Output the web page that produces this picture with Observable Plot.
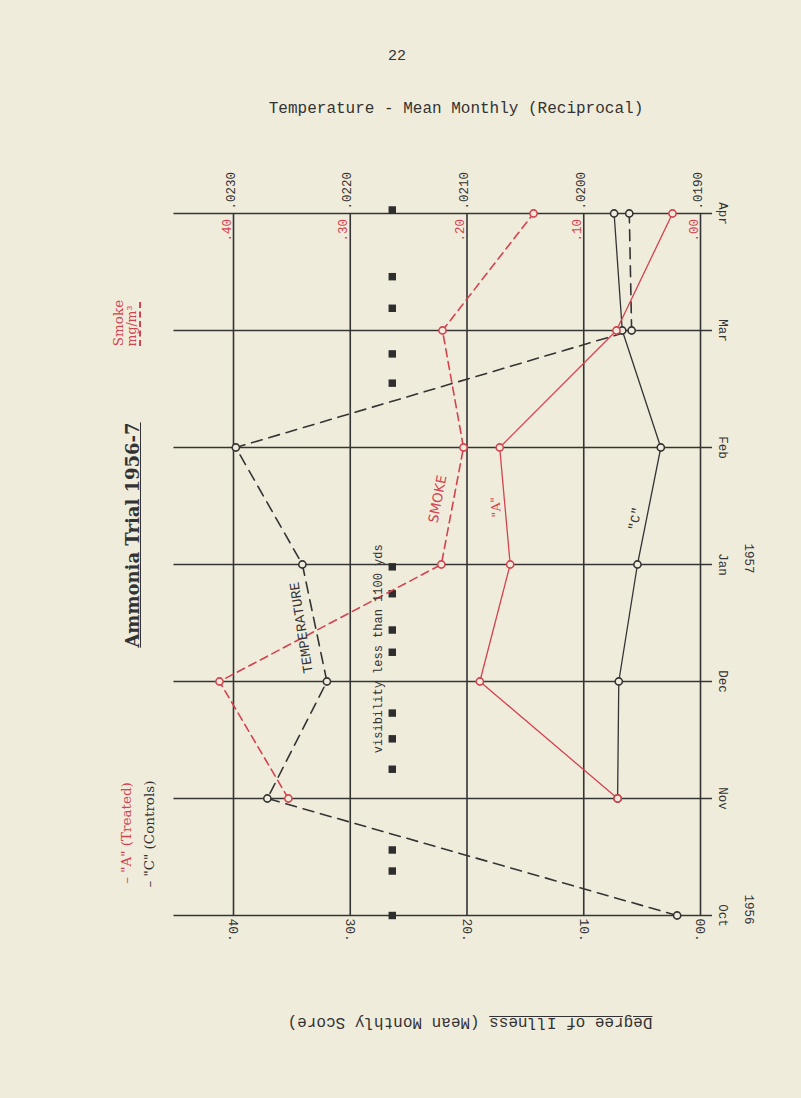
<!DOCTYPE html>
<html><head><meta charset="utf-8">
<script src="https://cdn.jsdelivr.net/npm/d3@7"></script>
<script src="https://cdn.jsdelivr.net/npm/@observablehq/plot@0.6"></script>
<style>
body{margin:0;background:#f0ecdc;}
#page{position:relative;width:801px;height:1098px;overflow:hidden;font-family:"Liberation Mono",monospace;color:#333;background:#f0ecdc;}
.abs{position:absolute;white-space:nowrap;line-height:1;}
.c{transform:translate(-50%,-50%);}
.r90{transform:translate(-50%,-50%) rotate(-90deg);}
.r180{transform:translate(-50%,-50%) rotate(180deg);}
#chart{position:absolute;left:0;top:130px;}
.serif{font-family:"DejaVu Serif",serif;}
.red{color:#d4434f;}
</style></head><body><div id="page">
<div class="abs c" style="left:397px;top:56px;font-size:15px;">22</div>
<div class="abs c" style="left:456px;top:109px;font-size:16px;">Temperature - Mean Monthly (Reciprocal)</div>
<div id="chart"></div>
<div class="abs r90 serif red" style="left:119px;top:323px;font-size:13.5px;">Smoke</div>
<div class="abs r90 serif red" style="left:132px;top:326px;font-size:12.5px;">mg/m³</div>
<div class="abs" style="left:139px;top:302px;height:44px;width:0;border-left:2px dashed #d4434f;"></div>
<div class="abs r90" style="left:133px;top:535px;font-size:18px;font-weight:bold;font-family:'DejaVu Serif',serif;color:#333;"><u>Ammonia Trial 1956-7</u></div>
<div class="abs r90 serif red" style="left:127px;top:833px;font-size:13.5px;">–&nbsp;"A" (Treated)</div>
<div class="abs r90 serif" style="left:150px;top:834px;font-size:13.5px;color:#333;">–&nbsp;"C" (Controls)</div>
<div class="abs r180" style="left:470px;top:1022px;font-size:16px;"><u>Degree of Illness</u> (Mean Monthly Score)</div>
</div>
<script>
// ---- data ----
const months = ["Oct", "Nov", "Dec", "Jan", "Feb", "Mar", "Apr"];
const years = ["1956", "1957"];
const yearMonth = [0, 3];
// Degree of illness, mean monthly score
const illnessA = [null, 7.1, 18.9, 16.3, 17.2, 7.2, 2.4];   // "A" (Treated)
const illnessC = [null, 7.1, 7.0, 5.4, 3.4, 6.7, 7.4];       // "C" (Controls)
// Smoke, mg/m3
const smoke = [null, 0.353, 0.412, 0.222, 0.203, 0.221, 0.143];
// Temperature, mean monthly (reciprocal)
const tempRecip = [0.0192, 0.02271, 0.0222, 0.02241, 0.02298, 0.01959, 0.01961];
// days with visibility less than 1100 yds (position in months from Oct 1956)
const fogDays = [0.0, 0.38, 0.56, 1.25, 1.51, 1.73, 2.25, 2.44, 2.75, 2.98, 4.55, 4.80, 5.19, 5.46, 6.03];
// axis ticks
const illTicks = [40, 30, 20, 10, 0];
const illTickLabels = ["40", "30", "20", "10", "00"];
const smokeTickLabels = [".40", ".30", ".20", ".10", ".00"];
const tempTicks = [0.0230, 0.0220, 0.0210, 0.0200, 0.0190];
const tempTickLabels = [".0230", ".0220", ".0210", ".0200", ".0190"];

// ---- derived tables ----
const idx = months.map((_, i) => i);
const rowsA = idx.filter(i => illnessA[i] != null).map(i => ({m: i, v: illnessA[i]}));
const rowsC = idx.filter(i => illnessC[i] != null).map(i => ({m: i, v: illnessC[i]}));
const rowsS = idx.filter(i => smoke[i] != null).map(i => ({m: i, v: smoke[i]}));
const rowsT = idx.map(i => ({m: i, v: tempRecip[i]}));
const tempX = r => (r - 0.0190) * 10000;   // reciprocal temperature scale aligned on the illness scale
const smokeX = s => s * 100;                // smoke mg/m3 aligned on the illness scale

const BG = "#f0ecdc", INK = "#343434", RED = "#d4434f";
const mono = "Liberation Mono, monospace";

const chart = Plot.plot({
  width: 801,
  height: 968,
  marginTop: 83,
  marginBottom: 183,
  marginLeft: 233,
  marginRight: 101,
  x: {domain: [40, 0], axis: null},
  y: {domain: [0, 6], axis: null},
  style: {background: "transparent", overflow: "visible", fontFamily: mono, color: INK},
  marks: [
    Plot.ruleX(illTicks, {y1: 0, y2: 6, stroke: INK, strokeWidth: 1.6}),
    Plot.ruleY(idx, {x1: 45.1, x2: -1.03, stroke: INK, strokeWidth: 1.6}),
    // visibility days
    Plot.dot(fogDays, {x: 26.4, y: d => d, symbol: "square", r: 4.2, fill: "#2e2e2e"}),
    // lines
    Plot.line(rowsT, {x: d => tempX(d.v), y: "m", stroke: INK, strokeWidth: 1.6, strokeDasharray: "11,7"}),
    Plot.line(rowsS, {x: d => smokeX(d.v), y: "m", stroke: RED, strokeWidth: 1.6, strokeDasharray: "8,5"}),
    Plot.line(rowsC, {x: "v", y: "m", stroke: INK, strokeWidth: 1.3}),
    Plot.line(rowsA, {x: "v", y: "m", stroke: RED, strokeWidth: 1.3}),
    // points
    Plot.dot(rowsT, {x: d => tempX(d.v), y: "m", r: 3.6, stroke: INK, strokeWidth: 1.6, fill: BG}),
    Plot.dot(rowsC, {x: "v", y: "m", r: 3.6, stroke: INK, strokeWidth: 1.6, fill: BG}),
    Plot.dot(rowsS, {x: d => smokeX(d.v), y: "m", r: 3.6, stroke: RED, strokeWidth: 1.6, fill: BG}),
    Plot.dot(rowsA, {x: "v", y: "m", r: 3.6, stroke: RED, strokeWidth: 1.6, fill: BG}),
    // top axis: temperature reciprocal
    Plot.text(tempTicks, {x: d => tempX(d), y: 6, text: (d, i) => tempTickLabels[i], rotate: -90,
      textAnchor: "start", lineAnchor: "bottom", dy: -4, dx: 1, fontSize: 12.5, fontFamily: mono, fill: INK}),
    // inner red axis: smoke
    Plot.text(illTicks, {x: d => d, y: 6, text: (d, i) => smokeTickLabels[i], rotate: -90,
      textAnchor: "start", lineAnchor: "bottom", dy: 28, dx: -3, fontSize: 12.5, fontFamily: mono, fill: RED}),
    // bottom axis: degree of illness
    Plot.text(illTicks, {x: d => d, y: 0, text: (d, i) => illTickLabels[i] + ".", rotate: 90,
      textAnchor: "start", lineAnchor: "middle", dy: 3, fontSize: 13, fontFamily: mono, fill: INK}),
    // month labels
    Plot.text(months, {y: (d, i) => i, frameAnchor: "right", text: d => d, rotate: 90, dx: 22,
      textAnchor: "middle", lineAnchor: "middle", fontSize: 12.5, fontFamily: mono, fill: INK}),
    Plot.text(years, {y: (d, i) => yearMonth[i], frameAnchor: "right", text: d => d, rotate: 90, dx: 48, dy: -6,
      textAnchor: "middle", lineAnchor: "middle", fontSize: 12.5, fontFamily: mono, fill: INK}),
    // annotations
    Plot.text(["TEMPERATURE"], {x: 34.2, y: 2.46, rotate: -99, textAnchor: "middle", lineAnchor: "middle",
      fontSize: 14, fontFamily: mono, fill: INK}),
    Plot.text(["SMOKE"], {x: 22.5, y: 3.56, rotate: -79, textAnchor: "middle", lineAnchor: "middle",
      fontSize: 13.5, fontFamily: "DejaVu Sans, sans-serif", fill: RED}),
    Plot.text(['"A"'], {x: 17.5, y: 3.49, rotate: -95, textAnchor: "middle", lineAnchor: "middle",
      fontSize: 12.5, fontFamily: "DejaVu Serif, serif", fill: RED}),
    Plot.text(['"C"'], {x: 5.6, y: 3.39, rotate: -79, textAnchor: "middle", lineAnchor: "middle",
      fontSize: 13, fontFamily: mono, fill: INK}),
    Plot.text(["visibility less than 1100 yds"], {x: 27.6, y: 2.28, rotate: -90, textAnchor: "middle", lineAnchor: "middle",
      fontSize: 12, fontFamily: mono, fill: INK})
  ]
});
document.getElementById("chart").appendChild(chart);
</script>
</body></html>
